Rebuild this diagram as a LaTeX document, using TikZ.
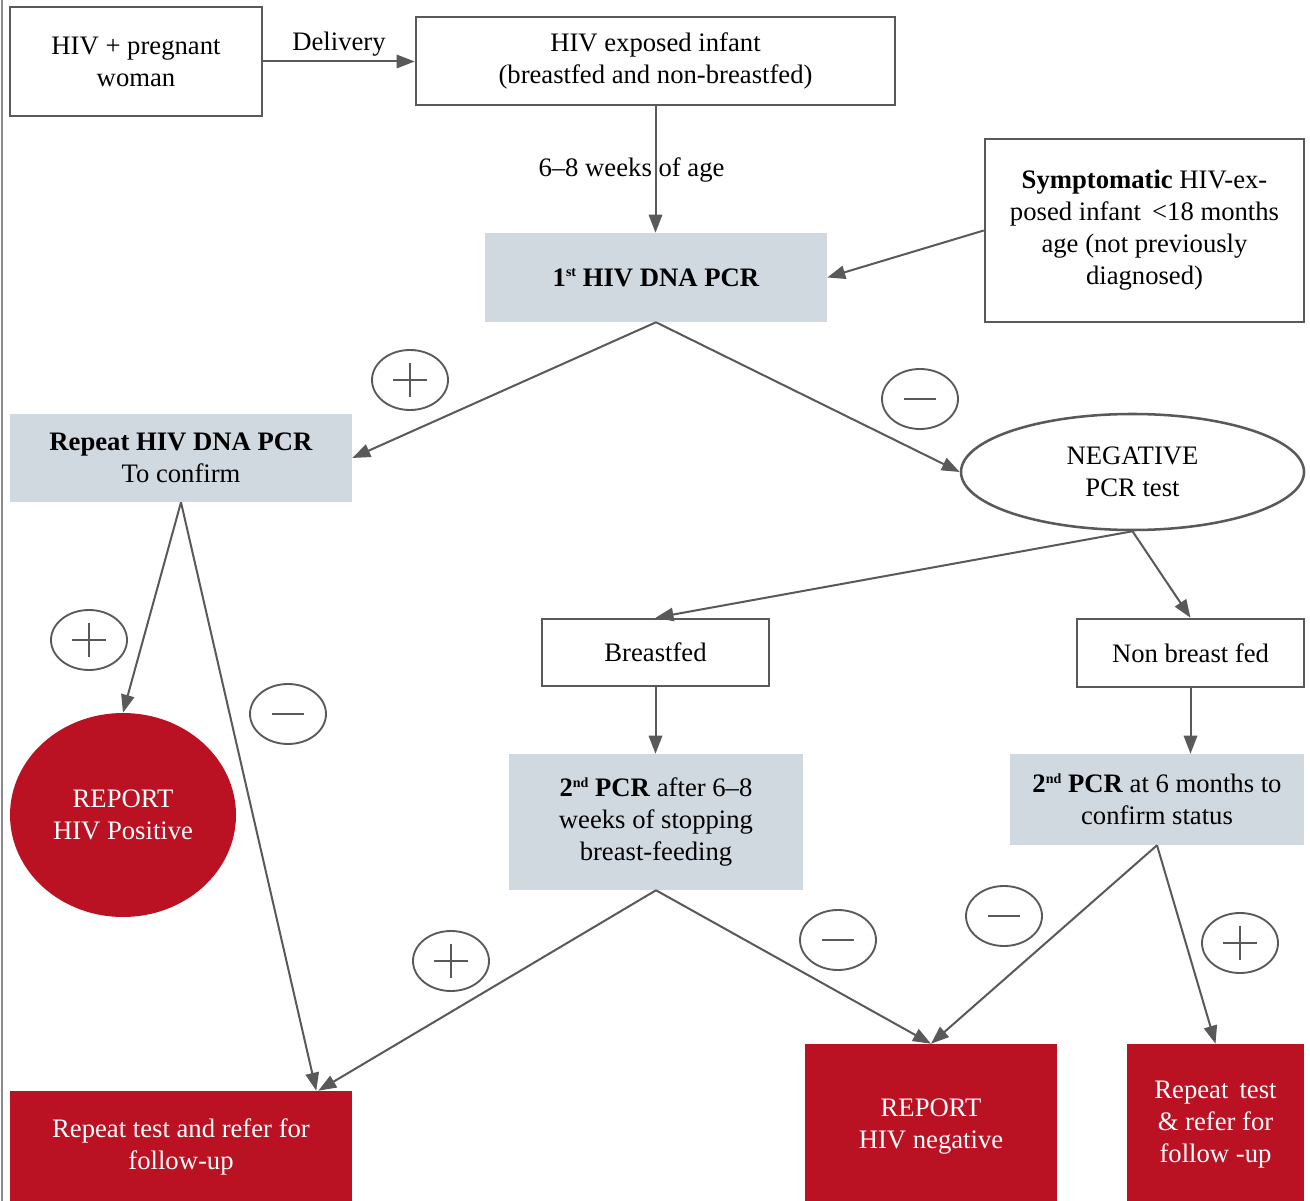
\documentclass[tikz,border=0pt]{standalone}
\usepackage{fontspec}
\setmainfont{Liberation Serif}
\usetikzlibrary{arrows.meta,shapes.geometric}
\definecolor{lc}{HTML}{595959}
\definecolor{boxgray}{HTML}{D1D9E0}
\definecolor{hivred}{HTML}{BA1222}
\newcommand{\dfont}{\fontsize{20pt}{24pt}\selectfont}
\newcommand{\supsm}[1]{\raisebox{0.75ex}{\fontsize{10.5pt}{10.5pt}\selectfont #1}}
\begin{document}
\begin{tikzpicture}[x=0.75pt,y=-0.75pt,
  every node/.style={font=\dfont, align=center, inner sep=0pt},
  outbox/.style={rectangle, draw=lc, line width=1.9pt, fill=white},
  graybox/.style={rectangle, fill=boxgray},
  redbox/.style={rectangle, fill=hivred, text=white},
  conn/.style={draw=lc, line width=1.5pt, -{Triangle[length=13.5pt,width=10pt]}},
  sign/.style={ellipse, draw=lc, line width=1.4pt, minimum width=57pt, minimum height=45pt},
  plussign/.style={sign, path picture={
    \draw[lc, line width=1.2pt]
      ([xshift=-12.4pt]path picture bounding box.center) -- ([xshift=12.4pt]path picture bounding box.center)
      ([yshift=-12.4pt]path picture bounding box.center) -- ([yshift=12.4pt]path picture bounding box.center);}},
  minussign/.style={sign, path picture={
    \draw[lc, line width=1.2pt]
      ([xshift=-12pt]path picture bounding box.center) -- ([xshift=12pt]path picture bounding box.center);}},
]
\useasboundingbox (0,0) rectangle (1310,1201);
\fill[white] (0,0) rectangle (1310,1201);
\draw[lc!70, line width=1.4pt] (2,0) -- (2,1201);

% nodes
\node[outbox, minimum width=189pt, minimum height=81.75pt] (A) at (136,61.5) {HIV + pregnant\\woman};
\node[outbox, minimum width=359.25pt, minimum height=66pt] (B) at (655.5,61) {HIV exposed infant\\(breastfed and non-breastfed)};
\node[graybox, minimum width=256.5pt, minimum height=66.75pt] (C) at (656,277.5) {\textbf{1\supsm{st} HIV DNA PCR}};
\node[outbox, minimum width=239.25pt, minimum height=137.25pt] (D) at (1144.5,230.5) {\textbf{Symptomatic} HIV-ex-\\posed infant \,<18 months\\age (not previously\\diagnosed)};
\node[graybox, minimum width=256.5pt, minimum height=66pt] (E) at (181,458) {\textbf{Repeat HIV DNA PCR}\\To confirm};
\node[ellipse, draw=lc, line width=1.9pt, fill=white, minimum width=257.25pt, minimum height=87pt] (F) at (1132.5,472) {NEGATIVE\\PCR test};
\node[outbox, minimum width=170.25pt, minimum height=50.25pt] (G) at (655.5,652.5) {Breastfed};
\node[outbox, minimum width=170.25pt, minimum height=51pt] (H) at (1190.5,653) {Non breast fed};
\node[graybox, minimum width=220.5pt, minimum height=102pt] (I) at (656,822) {\textbf{2\supsm{nd} PCR} after 6--8\\weeks of stopping\\breast-feeding};
\node[graybox, minimum width=220.5pt, minimum height=68.25pt] (J) at (1157,799.5) {\textbf{2\supsm{nd} PCR} at 6 months to\\confirm status};
\node[ellipse, fill=hivred, text=white, minimum width=169.5pt, minimum height=153pt] (L) at (123,815) {REPORT\\HIV Positive};
\node[redbox, minimum width=256.5pt, minimum height=84pt] (K) at (181,1147) {Repeat test and refer for\\follow-up};
\node[redbox, minimum width=189pt, minimum height=124.5pt] (M) at (931,1127) {REPORT\\HIV negative};
\node[redbox, minimum width=132.75pt, minimum height=121.5pt] (N) at (1215.5,1125) {Repeat\, test\\\& refer for\\follow -up};

% sign markers
\node[plussign] (s1) at (410,380) {};
\node[minussign] (s2) at (920,399) {};
\node[plussign] (s3) at (89,640) {};
\node[minussign] (s4) at (288,714) {};
\node[plussign] (s5) at (451,961) {};
\node[minussign] (s6) at (838,940) {};
\node[minussign] (s7) at (1004,916) {};
\node[plussign] (s8) at (1240,943) {};

% connectors
\draw[conn] (A.east) -- node[midway, yshift=13pt] (dl) {Delivery} (A.east -| B.west);
\draw[conn] (B.south) -- node[midway, xshift=-18pt] (wl) {6--8 weeks of age} (B.south |- C.north);
\draw[conn] (D.west) -- (C.east);
\draw[conn] (C.south) -- (E.east);
\draw[conn] (C.south) -- (F.west);
\draw[conn] (F.south) -- (G.north);
\draw[conn] (F.south) -- (H.north);
\draw[conn] (G.south) -- (G.south |- I.north);
\draw[conn] (H.south) -- (H.south |- J.north);
\draw[conn] (E.south) -- (L.north);
\draw[conn] (E.south) -- ([xshift=-27pt]K.north east);
\draw[conn] (I.south) -- ([xshift=-25.5pt]K.north east);
\draw[conn] (I.south) -- (M.north);
\draw[conn] (J.south) -- (M.north);
\draw[conn] (J.south) -- (N.north);
\end{tikzpicture}
\end{document}
